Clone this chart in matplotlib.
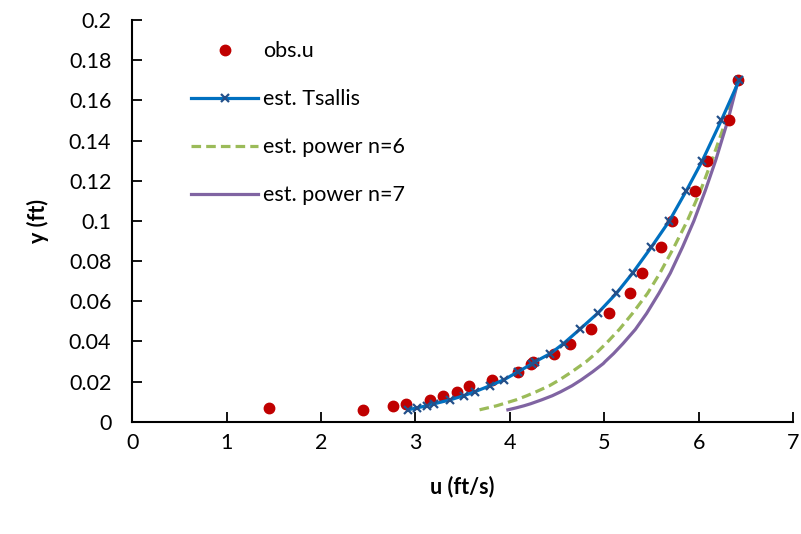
import matplotlib.pyplot as plt

plt.rcParams["font.family"] = ["Lato", "DejaVu Sans"]

# observed velocity profile
obs_u = [1.45, 2.44, 2.76, 2.90, 3.16, 3.29, 3.44, 3.57, 3.81, 4.09, 4.22, 4.25,
         4.47, 4.64, 4.86, 5.05, 5.27, 5.40, 5.60, 5.72, 5.96, 6.09, 6.32, 6.42]
obs_y = [0.007, 0.006, 0.008, 0.009, 0.011, 0.013, 0.015, 0.018, 0.021, 0.025, 0.029, 0.030,
         0.034, 0.039, 0.046, 0.054, 0.064, 0.074, 0.087, 0.100, 0.115, 0.130, 0.150, 0.170]

# estimated profiles, evaluated at the measured depths
est_y = [0.006, 0.007, 0.008, 0.009, 0.011, 0.013, 0.015, 0.018, 0.021, 0.025, 0.029, 0.030,
         0.034, 0.039, 0.046, 0.054, 0.064, 0.074, 0.087, 0.100, 0.115, 0.130, 0.150, 0.170]
tsallis_u = [2.92, 3.02, 3.12, 3.20, 3.37, 3.51, 3.63, 3.79, 3.94, 4.09, 4.24, 4.27,
             4.43, 4.57, 4.74, 4.93, 5.13, 5.30, 5.50, 5.69, 5.87, 6.04, 6.24, 6.43]
power6_u = [3.68, 3.77, 3.86, 3.93, 4.07, 4.18, 4.28, 4.42, 4.53, 4.66, 4.78, 4.81,
            4.91, 5.02, 5.16, 5.30, 5.46, 5.59, 5.74, 5.88, 6.02, 6.14, 6.29, 6.42]
power7_u = [3.98, 4.07, 4.15, 4.22, 4.34, 4.45, 4.54, 4.66, 4.76, 4.88, 4.99, 5.01,
            5.10, 5.20, 5.33, 5.45, 5.58, 5.70, 5.83, 5.95, 6.07, 6.18, 6.31, 6.42]

fig = plt.figure(figsize=(8.01, 5.34), dpi=100)
ax = fig.add_axes([0.165, 0.21, 0.825, 0.7525])

ax.plot(obs_u, obs_y, "o", color="#C00000", ms=7.5, mec="#C00000", label="obs.u", zorder=3)
ax.plot(tsallis_u, est_y, "-", color="#0070C0", lw=2.3, marker="x", ms=6,
        mec="#23508A", mew=1.6, label="est. Tsallis", zorder=4)
ax.plot(power6_u, est_y, "--", color="#9BBB59", lw=2.3, dashes=(3, 1.6), label="est. power n=6")
ax.plot(power7_u, est_y, "-", color="#8064A2", lw=2.3, label="est. power n=7")

ax.set_xlim(0, 7)
ax.set_ylim(0, 0.2)
ax.set_xticks(range(0, 8))
ax.set_yticks([0, 0.02, 0.04, 0.06, 0.08, 0.1, 0.12, 0.14, 0.16, 0.18, 0.2])
ax.set_yticklabels(["0", "0.02", "0.04", "0.06", "0.08", "0.1", "0.12", "0.14", "0.16", "0.18", "0.2"])
ax.tick_params(direction="in", length=7, width=1.3, labelsize=15.5, pad=15)
ax.tick_params(axis="x", pad=8)
for side in ["top", "right"]:
    ax.spines[side].set_visible(False)
for side in ["left", "bottom"]:
    ax.spines[side].set_linewidth(1.5)

ax.set_xlabel("u (ft/s)", fontsize=15.5, fontweight="bold", labelpad=16)
ax.set_ylabel("y (ft)", fontsize=15.5, fontweight="bold", labelpad=14)

ax.legend(loc="upper left", bbox_to_anchor=(0.06, 0.995), frameon=False, fontsize=15.5,
          handlelength=3.1, labelspacing=1.3, handletextpad=0.25)

fig.savefig("out.png", dpi=100)
